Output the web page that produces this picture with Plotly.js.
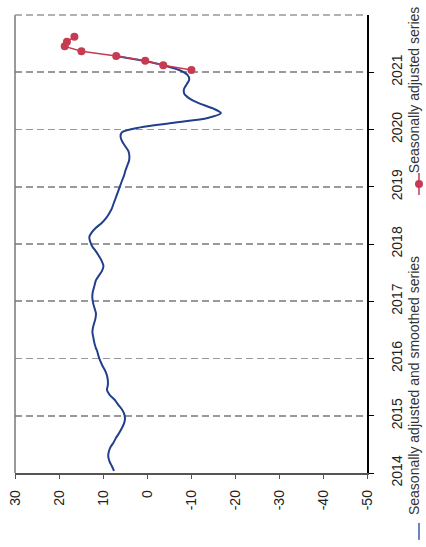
<!DOCTYPE html>
<html>
<head>
<meta charset="utf-8">
<script src="https://cdn.plot.ly/plotly-3.0.1.min.js"></script>
<style>
  html, body { margin: 0; padding: 0; background: #fff; }
  #chart { width: 426px; height: 547px; }
</style>
</head>
<body>
<div id="chart"></div>
<script>
// ---- Data ----
const blueStartYear = 2014;          // monthly series starts January 2014
const blueValues = [
  // 2014
  7.5, 8.0, 8.5, 8.8, 8.7, 8.3, 7.6, 7.0, 6.3, 5.7, 5.2, 5.0,
  // 2015
  5.2, 5.8, 6.6, 7.4, 8.5, 9.1, 8.9, 8.9, 9.1, 9.5, 10.1, 10.6,
  // 2016
  11.0, 11.3, 11.7, 12.0, 12.2, 12.4, 12.3, 12.0, 11.7, 11.6, 11.9, 12.2,
  // 2017
  12.4, 12.4, 12.2, 11.9, 11.6, 10.9, 10.2, 9.9, 10.3, 10.9, 11.6, 12.4,
  // 2018
  12.9, 13.1, 12.6, 11.6, 10.3, 9.3, 8.6, 8.0, 7.6, 7.2, 6.8, 6.4,
  // 2019
  6.0, 5.6, 5.2, 4.9, 4.5, 4.1, 4.0, 4.2, 4.9, 5.6, 6.0, 5.7,
  // 2020
  1.5, -6.5, -13.8, -16.8, -15.0, -12.0, -9.8, -8.5, -8.4, -9.0, -9.6, -9.2,
  // 2021
  -7.3, -3.7, 0.8, 6.9
];
const redDates = ['2021-01-15','2021-02-15','2021-03-15','2021-04-15',
                  '2021-05-15','2021-06-15','2021-07-15','2021-08-15'];
const redValues = [-10.1, -3.7, 0.4, 7.0, 14.9, 18.7, 18.2, 16.5];

const valueTickVals = [30, 20, 10, 0, -10, -20, -30, -40, -50];
const valueTickText = ['30', '20', '10', '0', '-10', '-20', '-30', '-40', '-50'];
const yearLabels = ['2014','2015','2016','2017','2018','2019','2020','2021'];

const blueName = 'Seasonally adjusted and smoothed series';
const redName = 'Seasonally adjusted series';

// monthly dates for the blue series
const blueDates = blueValues.map((v, i) => {
  const y = blueStartYear + Math.floor(i / 12);
  const m = (i % 12) + 1;
  return y + '-' + String(m).padStart(2, '0') + '-15';
});
const yearTickVals = yearLabels.map(y => y + '-01-01');

const BLUE = '#213f8c';
const RED = '#c63a52';
const FONT = 'Liberation Sans, Arial, sans-serif';

const traces = [
  {
    type: 'scatter', mode: 'lines', name: blueName,
    x: blueValues, y: blueDates,
    line: { color: BLUE, width: 2, shape: 'spline', smoothing: 0.8 },
    hoverinfo: 'skip'
  },
  {
    type: 'scatter', mode: 'lines+markers', name: redName,
    x: redValues, y: redDates,
    line: { color: RED, width: 1.5 },
    marker: { color: RED, size: 8 },
    hoverinfo: 'skip'
  }
];

const layout = {
  width: 426, height: 547,
  margin: { l: 15, r: 59, t: 15, b: 74, pad: 0 },
  paper_bgcolor: '#fff', plot_bgcolor: '#fff',
  showlegend: false,
  font: { family: FONT, size: 14, color: '#222' },
  xaxis: {
    range: [30, -50],
    tickmode: 'array', tickvals: valueTickVals, ticktext: valueTickText,
    tickangle: -90,
    ticks: 'outside', ticklen: 4, tickwidth: 1, tickcolor: '#555',
    showline: true, linecolor: '#555', linewidth: 1.5,
    showgrid: false, zeroline: false,
    tickfont: { family: FONT, size: 14, color: '#222' },
    ticklabelstandoff: 6,
    fixedrange: true
  },
  yaxis: {
    type: 'date',
    range: ['2014-01-01', '2022-01-01'],
    side: 'right',
    tickmode: 'array', tickvals: yearTickVals, ticktext: yearLabels,
    tickangle: -90,
    ticks: 'outside', ticklen: 5, tickwidth: 1, tickcolor: '#000',
    showline: true, linecolor: '#000', linewidth: 1.5,
    showgrid: true, gridcolor: '#999', gridwidth: 1.5, griddash: '7px,4px',
    zeroline: false,
    tickfont: { family: FONT, size: 14, color: '#222' },
    ticklabelstandoff: 12,
    fixedrange: true
  },
  shapes: [
    // left border
    { type: 'line', xref: 'paper', yref: 'paper', x0: 0, x1: 0, y0: 0, y1: 1,
      line: { color: '#777', width: 1.5 } },
    // top dashed border
    { type: 'line', xref: 'paper', yref: 'paper', x0: 0, x1: 1, y0: 1, y1: 1,
      line: { color: '#999', width: 1.5, dash: '7px,4px' } },
    // legend: blue line
    { type: 'line', xref: 'paper', yref: 'paper', x0: 1.1477, x1: 1.1477, y0: -0.109, y1: -0.146,
      line: { color: '#6f82bd', width: 2 } },
    // legend: red line
    { type: 'line', xref: 'paper', yref: 'paper', x0: 1.1477, x1: 1.1477, y0: 0.655, y1: 0.607,
      line: { color: RED, width: 1.5 } },
    // legend: red dot
    { type: 'circle', xref: 'paper', yref: 'paper', xsizemode: 'pixel', ysizemode: 'pixel',
      xanchor: 1.1477, yanchor: 0.631, x0: -4, x1: 4, y0: -4, y1: 4,
      fillcolor: RED, line: { color: RED, width: 0 } }
  ],
  annotations: [
    { xref: 'paper', yref: 'paper', x: 1.1335, y: 0.192, text: blueName,
      textangle: -90, showarrow: false, xanchor: 'center', yanchor: 'middle',
      font: { family: FONT, size: 14, color: '#333' } },
    { xref: 'paper', yref: 'paper', x: 1.1335, y: 0.838, text: redName,
      textangle: -90, showarrow: false, xanchor: 'center', yanchor: 'middle',
      font: { family: FONT, size: 14, color: '#333' } }
  ]
};

Plotly.newPlot('chart', traces, layout, { staticPlot: true, displayModeBar: false });
</script>
</body>
</html>
